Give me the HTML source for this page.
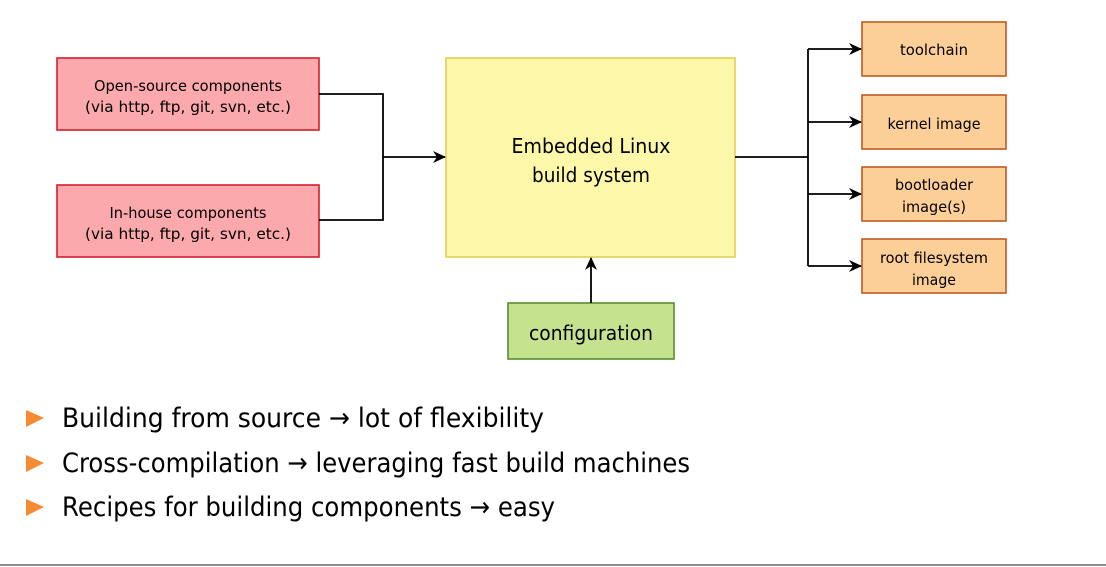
<!DOCTYPE html>
<html><head><meta charset="utf-8"><style>
html,body{margin:0;padding:0;background:#fff;}
svg{display:block;font-family:"DejaVu Sans","Liberation Sans",sans-serif;}
</style></head><body>
<svg width="1106" height="567" viewBox="0 0 1106 567" xmlns="http://www.w3.org/2000/svg">
<defs><marker id="a" markerWidth="13" markerHeight="12" refX="12" refY="6" orient="auto" markerUnits="userSpaceOnUse"><path d="M0,0 L13,6 L0,12 L4,6 z" fill="#000"/></marker></defs>
<g stroke-width="1.6">
<rect x="57" y="58" width="262" height="72" fill="#fca9ad" stroke="#d0202a"/>
<rect x="57" y="185" width="262" height="72" fill="#fca9ad" stroke="#d0202a"/>
<rect x="446" y="58" width="289" height="199" fill="#fdf7a9" stroke="#e0d050"/>
<rect x="508" y="303" width="166" height="56" fill="#c5e38f" stroke="#5a8a30"/>
<rect x="862" y="22" width="144" height="54" fill="#fdcf98" stroke="#c05a20"/>
<rect x="862" y="95" width="144" height="54" fill="#fdcf98" stroke="#c05a20"/>
<rect x="862" y="167" width="144" height="54" fill="#fdcf98" stroke="#c05a20"/>
<rect x="862" y="239" width="144" height="54" fill="#fdcf98" stroke="#c05a20"/>
</g>
<g stroke="#000" stroke-width="1.8" fill="none">
<polyline points="319,94 383,94 383,220 319,220"/>
<line x1="383" y1="157" x2="445" y2="157" marker-end="url(#a)"/>
<line x1="735" y1="157" x2="808" y2="157"/>
<line x1="808" y1="49" x2="808" y2="266"/>
<line x1="808" y1="49" x2="861" y2="49" marker-end="url(#a)"/>
<line x1="808" y1="122" x2="861" y2="122" marker-end="url(#a)"/>
<line x1="808" y1="194" x2="861" y2="194" marker-end="url(#a)"/>
<line x1="808" y1="266" x2="861" y2="266" marker-end="url(#a)"/>
<line x1="591" y1="303" x2="591" y2="258" marker-end="url(#a)"/>
</g>
<g font-size="15" text-anchor="middle" fill="#000" lengthAdjust="spacingAndGlyphs">
<text x="188" y="91" textLength="188" lengthAdjust="spacingAndGlyphs">Open-source components</text>
<text x="188" y="112" textLength="206" lengthAdjust="spacingAndGlyphs">(via http, ftp, git, svn, etc.)</text>
<text x="188" y="218" textLength="157" lengthAdjust="spacingAndGlyphs">In-house components</text>
<text x="188" y="239" textLength="206" lengthAdjust="spacingAndGlyphs">(via http, ftp, git, svn, etc.)</text>
<text x="934" y="55" textLength="68" lengthAdjust="spacingAndGlyphs">toolchain</text>
<text x="934" y="129" textLength="93" lengthAdjust="spacingAndGlyphs">kernel image</text>
<text x="934" y="190" textLength="78" lengthAdjust="spacingAndGlyphs">bootloader</text>
<text x="934" y="212" textLength="64" lengthAdjust="spacingAndGlyphs">image(s)</text>
<text x="934" y="263" textLength="108" lengthAdjust="spacingAndGlyphs">root filesystem</text>
<text x="934" y="285" textLength="44" lengthAdjust="spacingAndGlyphs">image</text>
</g>
<g font-size="20" text-anchor="middle">
<text x="591" y="153" textLength="159" lengthAdjust="spacingAndGlyphs">Embedded Linux</text>
<text x="591" y="182" textLength="118" lengthAdjust="spacingAndGlyphs">build system</text>
<text x="591" y="340" textLength="124" lengthAdjust="spacingAndGlyphs">configuration</text>
</g>
<g fill="#f58a33">
<polygon points="26,410 44,418 26,427"/>
<polygon points="26,455 44,463 26,472"/>
<polygon points="26,499 44,507 26,516"/>
</g>
<g font-size="27" fill="#000">
<text x="62" y="427" textLength="482" lengthAdjust="spacingAndGlyphs">Building from source → lot of flexibility</text>
<text x="62" y="472" textLength="628" lengthAdjust="spacingAndGlyphs">Cross-compilation → leveraging fast build machines</text>
<text x="62" y="516" textLength="493" lengthAdjust="spacingAndGlyphs">Recipes for building components → easy</text>
</g>
<line x1="0" y1="565" x2="1106" y2="565" stroke="#666" stroke-width="1.5"/>
</svg>
</body></html>
